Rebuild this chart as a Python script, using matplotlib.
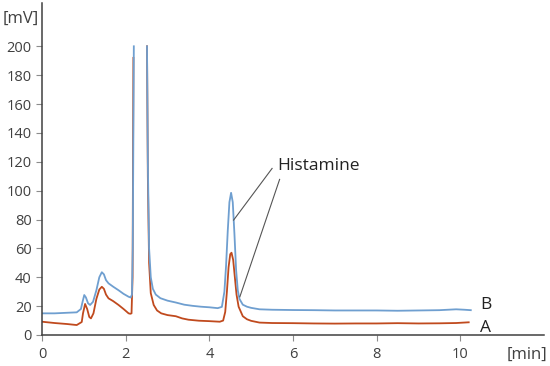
import matplotlib
matplotlib.use("Agg")
import matplotlib.pyplot as plt
import numpy as np

plt.rcParams["font.family"] = ["Open Sans", "DejaVu Sans"]

NAN = float("nan")

# Cromatograma B (azul): tiempo [min], senal [mV]; NaN = fuera de escala
tiempoB = [0, 0.3, 0.6, 0.83, 0.93, 0.97, 1.01, 1.05, 1.1, 1.15, 1.22, 1.3, 1.37,
           1.43, 1.48, 1.53, 1.59, 1.7, 1.83, 1.95, 2.07, 2.12, 2.15, 2.17, 2.195,
           2.3, 2.51, 2.53, 2.56, 2.6, 2.65, 2.72, 2.83, 3.0, 3.2, 3.4, 3.6, 3.8,
           4.0, 4.2, 4.3, 4.36, 4.4, 4.44, 4.48, 4.52, 4.56, 4.6, 4.64, 4.68,
           4.72, 4.8, 4.9, 5.0, 5.2, 5.5, 6.0, 6.5, 7.0, 7.5, 8.0, 8.5, 9.0, 9.5,
           9.9, 10.1, 10.25]
senalB = [15, 15, 15.4, 15.7, 18, 23, 27.7, 26, 22, 20.8, 23, 31, 40,
          43.5, 42, 38, 35.8, 33.5, 31, 28.5, 26.5, 26, 28, 60, 200,
          NAN, 200, 120, 60, 40, 32, 28, 25.5, 23.8, 22.5, 21, 20.2, 19.6,
          19.2, 18.6, 19.5, 30, 48, 72, 92, 98.5, 92, 70, 45, 31,
          25, 21, 19.6, 18.8, 17.8, 17.5, 17.3, 17.2, 17.0, 17.0, 17.0, 16.8,
          17.0, 17.2, 17.8, 17.5, 17.2]

# Cromatograma A (rojo)
tiempoA = [0, 0.3, 0.6, 0.83, 0.95, 0.98, 1.03, 1.08, 1.13, 1.17, 1.23, 1.3, 1.37,
           1.43, 1.48, 1.53, 1.59, 1.7, 1.83, 1.95, 2.07, 2.11, 2.14, 2.165, 2.185,
           2.3, 2.51, 2.53, 2.56, 2.6, 2.67, 2.75, 2.85, 3.0, 3.2, 3.35, 3.5, 3.75,
           4.0, 4.25, 4.33, 4.38, 4.42, 4.46, 4.5, 4.53, 4.57, 4.61, 4.65, 4.7,
           4.8, 4.9, 5.0, 5.2, 5.5, 6.0, 6.5, 7.0, 7.5, 8.0, 8.5, 9.0, 9.5, 9.9,
           10.2]
senalA = [9.2, 8.3, 7.6, 6.9, 9, 15, 21.5, 18, 12.5, 11.5, 15, 25, 31.5,
          33.4, 32, 28, 25.4, 23.5, 20.8, 18, 15, 14.7, 15, 40, 192,
          NAN, 200, 110, 50, 29, 20.8, 17, 15, 13.8, 13, 11.5, 10.6, 9.9,
          9.6, 9.2, 10, 16, 30, 47, 56, 57, 52, 40, 28, 19.6,
          13, 10.9, 9.8, 8.6, 8.3, 8.2, 8.0, 7.9, 8.0, 8.0, 8.2, 8.0, 8.1, 8.3,
          8.8]

TICKS_X = [0, 2, 4, 6, 8, 10]
TICKS_Y = list(range(0, 201, 20))

AZUL = "#6f9fd0"
ROJO = "#c04a1e"
GRIS = "#404040"

fig = plt.figure(figsize=(5.5, 3.66), dpi=100)
ax = fig.add_axes([42 / 550, 31 / 366, 502 / 550, 332 / 366])

ax.plot(tiempoA, senalA, color=ROJO, lw=1.3)
ax.plot(tiempoB, senalB, color=AZUL, lw=1.3)

ax.set_xlim(0, 12)
ax.set_ylim(0, 230)
ax.set_xticks(TICKS_X)
ax.set_yticks(TICKS_Y)

for lado in ["top", "right"]:
    ax.spines[lado].set_visible(False)
for lado in ["left", "bottom"]:
    ax.spines[lado].set_color(GRIS)
    ax.spines[lado].set_linewidth(1.1)

ax.tick_params(axis="both", colors="#8c8c8c", length=4, width=0.8,
               labelsize=10.5, labelcolor=GRIS)
ax.tick_params(axis="x", pad=5)

ax.text(-0.5, 219, "[mV]", fontsize=12, color=GRIS, ha="center", va="center",
        clip_on=False)
ax.text(11.6, -14, "[min]", fontsize=12, color=GRIS, ha="center", va="center",
        clip_on=False)
ax.text(10.47, 21, "B", fontsize=12.5, color="#222222", ha="left", va="center")
ax.text(10.47, 5, "A", fontsize=12.5, color="#222222", ha="left", va="center")

# Etiqueta de histamina con dos lineas guia
ax.text(5.62, 117, "Histamine", fontsize=12.5, color="#222222", ha="left",
        va="center")
ax.plot([5.50, 4.58], [115.4, 79.6], color="#555555", lw=0.8)
ax.plot([5.68, 4.73], [107.8, 26.5], color="#555555", lw=0.8)

fig.savefig("out.png", dpi=100)
